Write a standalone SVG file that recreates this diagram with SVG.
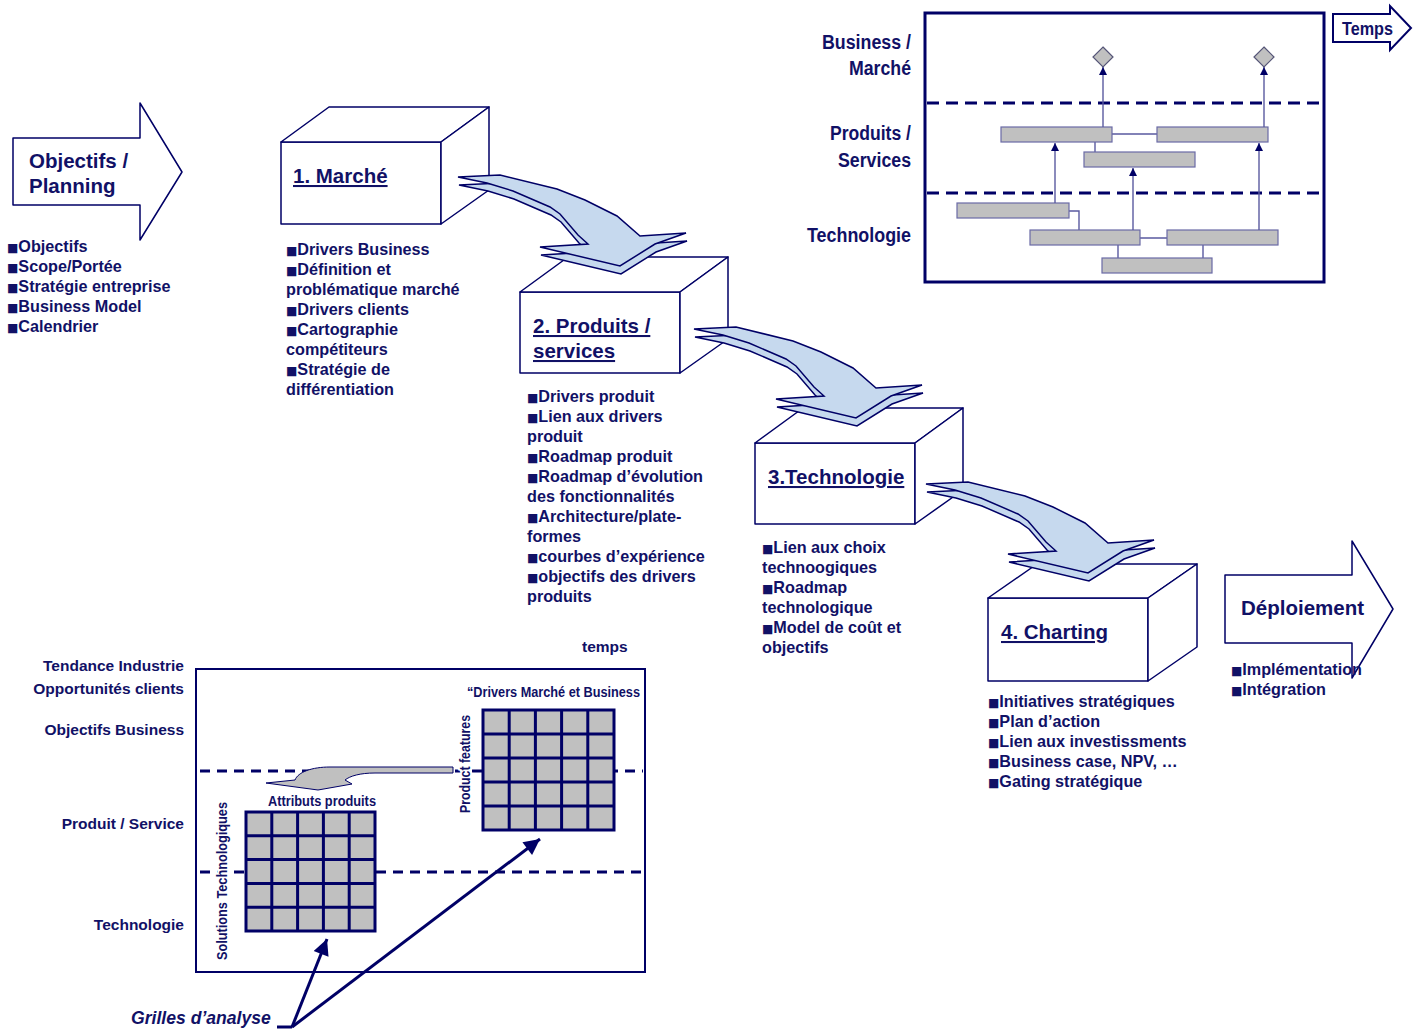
<svg xmlns="http://www.w3.org/2000/svg" width="1417" height="1030" viewBox="0 0 1417 1030">
<style>
text{font-family:"Liberation Sans",Arial,sans-serif;font-weight:bold;fill:#111166}
.t20{font-size:20.5px}
.lst{font-size:16.2px}
.bl{font-family:"DejaVu Sans",sans-serif;font-size:12px}
.u{text-decoration:underline}
.nar{font-family:"Liberation Sans Narrow","Liberation Sans",Arial,sans-serif}
.box{fill:#fff;stroke:#000066;stroke-width:1.5;stroke-linejoin:round}
.flow{fill:#c6d9ee;stroke:#000066;stroke-width:1.5;stroke-linejoin:miter}
.bar{fill:#c0c0c0;stroke:#6a6aa6;stroke-width:1.2}
.thin{fill:none;stroke:#5a5aa0;stroke-width:1.4}
.dash{fill:none;stroke:#000066;stroke-width:3;stroke-dasharray:12 7}
.dash2{fill:none;stroke:#000066;stroke-width:3;stroke-dasharray:10 7}
.big{fill:none;stroke:#000066;stroke-width:3}
.halo{stroke:#fff;stroke-width:4;paint-order:stroke}
</style>
<defs>
<marker id="ah" viewBox="0 0 10 10" refX="10" refY="5" markerWidth="8" markerHeight="10" markerUnits="userSpaceOnUse" orient="auto"><path d="M0,0 L10,5 L0,10 Z" fill="#000066"/></marker>
<marker id="ahb" viewBox="0 0 10 10" refX="10" refY="5" markerWidth="18" markerHeight="16" markerUnits="userSpaceOnUse" orient="auto"><path d="M0,0 L10,5 L0,10 Z" fill="#000066"/></marker>
<g id="flowshape">
<path class="flow" transform="translate(1,8)" d="M458,177 L500,175 L557,189 L585,200 L617,216 L640,236 L686,233 L655,244 L620,266 L540,247 L588,244 L578,235 L560,214 L550,207 L513,191 L487,183 Z"/>
<path class="flow" d="M458,177 L500,175 L557,189 L585,200 L617,216 L640,236 L686,233 L655,244 L620,266 L540,247 L588,244 L578,235 L560,214 L550,207 L513,191 L487,183 Z"/>
</g>
</defs>

<!-- Objectifs / Planning -->
<g id="objectifs">
<polygon class="box" points="13,138 140,138 140,103 182,172 140,240 140,205 13,205"/>
<text class="t20" x="29" y="168">Objectifs /</text>
<text class="t20" x="29" y="193">Planning</text>
<text class="lst"><tspan x="7" y="252"><tspan class="bl">■</tspan>Objectifs</tspan><tspan x="7" dy="20"><tspan class="bl">■</tspan>Scope/Portée</tspan><tspan x="7" dy="20"><tspan class="bl">■</tspan>Stratégie entreprise</tspan><tspan x="7" dy="20"><tspan class="bl">■</tspan>Business Model</tspan><tspan x="7" dy="20"><tspan class="bl">■</tspan>Calendrier</tspan></text>
</g>

<!-- Box 1 -->
<g id="marche">
<rect class="box" x="281" y="142" width="160" height="82"/>
<polygon class="box" points="281,142 329,107 489,107 441,142"/>
<polygon class="box" points="441,142 489,107 489,190 441,224"/>
<text class="t20 u" x="293" y="183">1. Marché</text>
<text class="lst"><tspan x="286" y="255"><tspan class="bl">■</tspan>Drivers Business</tspan><tspan x="286" dy="20"><tspan class="bl">■</tspan>Définition et</tspan><tspan x="286" dy="20">problématique marché</tspan><tspan x="286" dy="20"><tspan class="bl">■</tspan>Drivers clients</tspan><tspan x="286" dy="20"><tspan class="bl">■</tspan>Cartographie</tspan><tspan x="286" dy="20">compétiteurs</tspan><tspan x="286" dy="20"><tspan class="bl">■</tspan>Stratégie de</tspan><tspan x="286" dy="20">différentiation</tspan></text>
</g>

<!-- Box 2 -->
<g id="produits">
<rect class="box" x="520" y="292" width="160" height="81"/>
<polygon class="box" points="520,292 568,257 728,257 680,292"/>
<polygon class="box" points="680,292 728,257 728,339 680,373"/>
<text class="t20 u" x="533" y="333">2. Produits /</text>
<text class="t20 u" x="533" y="358">services</text>
<text class="lst"><tspan x="527" y="402"><tspan class="bl">■</tspan>Drivers produit</tspan><tspan x="527" dy="20"><tspan class="bl">■</tspan>Lien aux drivers</tspan><tspan x="527" dy="20">produit</tspan><tspan x="527" dy="20"><tspan class="bl">■</tspan>Roadmap produit</tspan><tspan x="527" dy="20"><tspan class="bl">■</tspan>Roadmap d’évolution</tspan><tspan x="527" dy="20">des fonctionnalités</tspan><tspan x="527" dy="20"><tspan class="bl">■</tspan>Architecture/plate-</tspan><tspan x="527" dy="20">formes</tspan><tspan x="527" dy="20"><tspan class="bl">■</tspan>courbes d’expérience</tspan><tspan x="527" dy="20"><tspan class="bl">■</tspan>objectifs des drivers</tspan><tspan x="527" dy="20">produits</tspan></text>
</g>

<!-- Box 3 -->
<g id="technologie">
<rect class="box" x="755" y="443" width="160" height="81"/>
<polygon class="box" points="755,443 803,408 963,408 915,443"/>
<polygon class="box" points="915,443 963,408 963,490 915,524"/>
<text class="t20 u" x="768" y="484">3.Technologie</text>
<text class="lst"><tspan x="762" y="553"><tspan class="bl">■</tspan>Lien aux choix</tspan><tspan x="762" dy="20">technoogiques</tspan><tspan x="762" dy="20"><tspan class="bl">■</tspan>Roadmap</tspan><tspan x="762" dy="20">technologique</tspan><tspan x="762" dy="20"><tspan class="bl">■</tspan>Model de coût et</tspan><tspan x="762" dy="20">objectifs</tspan></text>
</g>

<!-- Box 4 -->
<g id="charting">
<rect class="box" x="988" y="598" width="160" height="83"/>
<polygon class="box" points="988,598 1037,564 1197,564 1148,598"/>
<polygon class="box" points="1148,598 1197,564 1197,647 1148,681"/>
<text class="t20 u" x="1001" y="639">4. Charting</text>
<text class="lst"><tspan x="988" y="707"><tspan class="bl">■</tspan>Initiatives stratégiques</tspan><tspan x="988" dy="20"><tspan class="bl">■</tspan>Plan d’action</tspan><tspan x="988" dy="20"><tspan class="bl">■</tspan>Lien aux investissments</tspan><tspan x="988" dy="20"><tspan class="bl">■</tspan>Business case, NPV, …</tspan><tspan x="988" dy="20"><tspan class="bl">■</tspan>Gating stratégique</tspan></text>
</g>

<!-- Flow arrows -->
<g id="connectors">
<use href="#flowshape"/>
<use href="#flowshape" transform="translate(236,152)"/>
<use href="#flowshape" transform="translate(468,307)"/>
</g>

<!-- Déploiement -->
<g id="deploiement">
<polygon class="box" points="1225,575 1352,575 1352,541 1393,609 1352,678 1352,643 1225,643"/>
<text class="t20" x="1241" y="615">Déploiement</text>
<text class="lst"><tspan x="1231" y="675"><tspan class="bl">■</tspan>Implémentation</tspan><tspan x="1231" dy="20"><tspan class="bl">■</tspan>Intégration</tspan></text>
</g>

<!-- Roadmap top right -->
<g id="roadmap">
<rect x="925" y="13" width="399" height="269" fill="#fff" stroke="#000066" stroke-width="3"/>
<path class="dash" d="M927,103 H1322 M927,193 H1322"/>
<text class="nar" x="911" y="49" font-size="20" text-anchor="end" textLength="89" lengthAdjust="spacingAndGlyphs">Business /</text>
<text class="nar" x="911" y="75" font-size="20" text-anchor="end" textLength="62" lengthAdjust="spacingAndGlyphs">Marché</text>
<text class="nar" x="911" y="140" font-size="20" text-anchor="end" textLength="81" lengthAdjust="spacingAndGlyphs">Produits /</text>
<text class="nar" x="911" y="167" font-size="20" text-anchor="end" textLength="73" lengthAdjust="spacingAndGlyphs">Services</text>
<text class="nar" x="911" y="242" font-size="20" text-anchor="end" textLength="104" lengthAdjust="spacingAndGlyphs">Technologie</text>
<path class="thin" d="M1112,134 H1157 M1095,142 V152 M1069,211 H1079 V230 M1140,238 H1167 M1118,245 V258 M1203,245 V258"/>
<rect class="bar" x="1001" y="127" width="111" height="15"/>
<rect class="bar" x="1157" y="127" width="111" height="15"/>
<rect class="bar" x="1084" y="152" width="111" height="15"/>
<rect class="bar" x="957" y="203" width="112" height="15"/>
<rect class="bar" x="1030" y="230" width="110" height="15"/>
<rect class="bar" x="1167" y="230" width="111" height="15"/>
<rect class="bar" x="1102" y="258" width="110" height="15"/>
<polygon points="1103,47 1113,57 1103,67 1093,57" fill="#c0c0c0" stroke="#555577" stroke-width="1.2"/>
<polygon points="1264,47 1274,57 1264,67 1254,57" fill="#c0c0c0" stroke="#555577" stroke-width="1.2"/>
<path class="thin" marker-end="url(#ah)" d="M1103,127 V67"/>
<path class="thin" marker-end="url(#ah)" d="M1264,127 V67"/>
<path class="thin" marker-end="url(#ah)" d="M1055,203 V143"/>
<path class="thin" marker-end="url(#ah)" d="M1133,230 V168"/>
<path class="thin" marker-end="url(#ah)" d="M1259,230 V143"/>
</g>
<g id="temps-arrow">
<polygon points="1333,14 1390,14 1390,6 1411,28 1390,50 1390,42 1333,42" fill="#fff" stroke="#000066" stroke-width="2"/>
<text class="nar" x="1342" y="35" font-size="18" textLength="51" lengthAdjust="spacingAndGlyphs">Temps</text>
</g>

<!-- Bottom-left analysis grid diagram -->
<g id="grilles">
<text x="184" y="671" font-size="15.5" text-anchor="end">Tendance Industrie</text>
<text x="184" y="694" font-size="15.5" text-anchor="end">Opportunités clients</text>
<text x="184" y="735" font-size="15.5" text-anchor="end">Objectifs Business</text>
<text x="184" y="829" font-size="15.5" text-anchor="end">Produit / Service</text>
<text x="184" y="930" font-size="15.5" text-anchor="end">Technologie</text>
<text x="582" y="652" font-size="15.5">temps</text>
<rect x="196" y="669" width="449" height="303" fill="#fff" stroke="#000066" stroke-width="2"/>
<path class="dash2" d="M200,771 H643 M200,872 H245 M376,872 H643"/>
<path d="M453,767 L330,767 C312,767 298,772 295,780 L266,783 L318,790 L352,784 L345,780 C350,776 360,773 375,773 L453,773 Z" fill="#c0c0c0" stroke="#000066" stroke-width="1"/>
<g>
<rect x="246" y="812" width="129" height="119" fill="#c0c0c0"/>
<path class="big" d="M246,812 H375 V931 H246 Z M271.8,812 V931 M297.6,812 V931 M323.4,812 V931 M349.2,812 V931 M246,835.8 H375 M246,859.6 H375 M246,883.4 H375 M246,907.2 H375"/>
</g>
<g>
<rect x="483" y="710" width="131" height="120" fill="#c0c0c0"/>
<path class="big" d="M483,710 H614 V830 H483 Z M509.2,710 V830 M535.4,710 V830 M561.6,710 V830 M587.8,710 V830 M483,734 H614 M483,758 H614 M483,782 H614 M483,806 H614"/>
</g>
<text class="nar" x="268" y="806" font-size="14" textLength="108" lengthAdjust="spacingAndGlyphs">Attributs produits</text>
<text class="nar" x="467" y="697" font-size="14" textLength="173" lengthAdjust="spacingAndGlyphs">“Drivers Marché et Business</text>
<text class="nar halo" transform="translate(470,764) rotate(-90)" font-size="14" text-anchor="middle" textLength="98" lengthAdjust="spacingAndGlyphs">Product features</text>
<text class="nar halo" transform="translate(227,881) rotate(-90)" font-size="14" text-anchor="middle" textLength="158" lengthAdjust="spacingAndGlyphs">Solutions Technologiques</text>
<text x="131" y="1024" font-size="17.6" font-style="italic">Grilles d’analyse</text>
<path class="big" d="M277,1027 H292"/>
<path class="big" marker-end="url(#ahb)" d="M292,1027 L327,939"/>
<path class="big" marker-end="url(#ahb)" d="M292,1027 L540,839"/>
</g>
</svg>
